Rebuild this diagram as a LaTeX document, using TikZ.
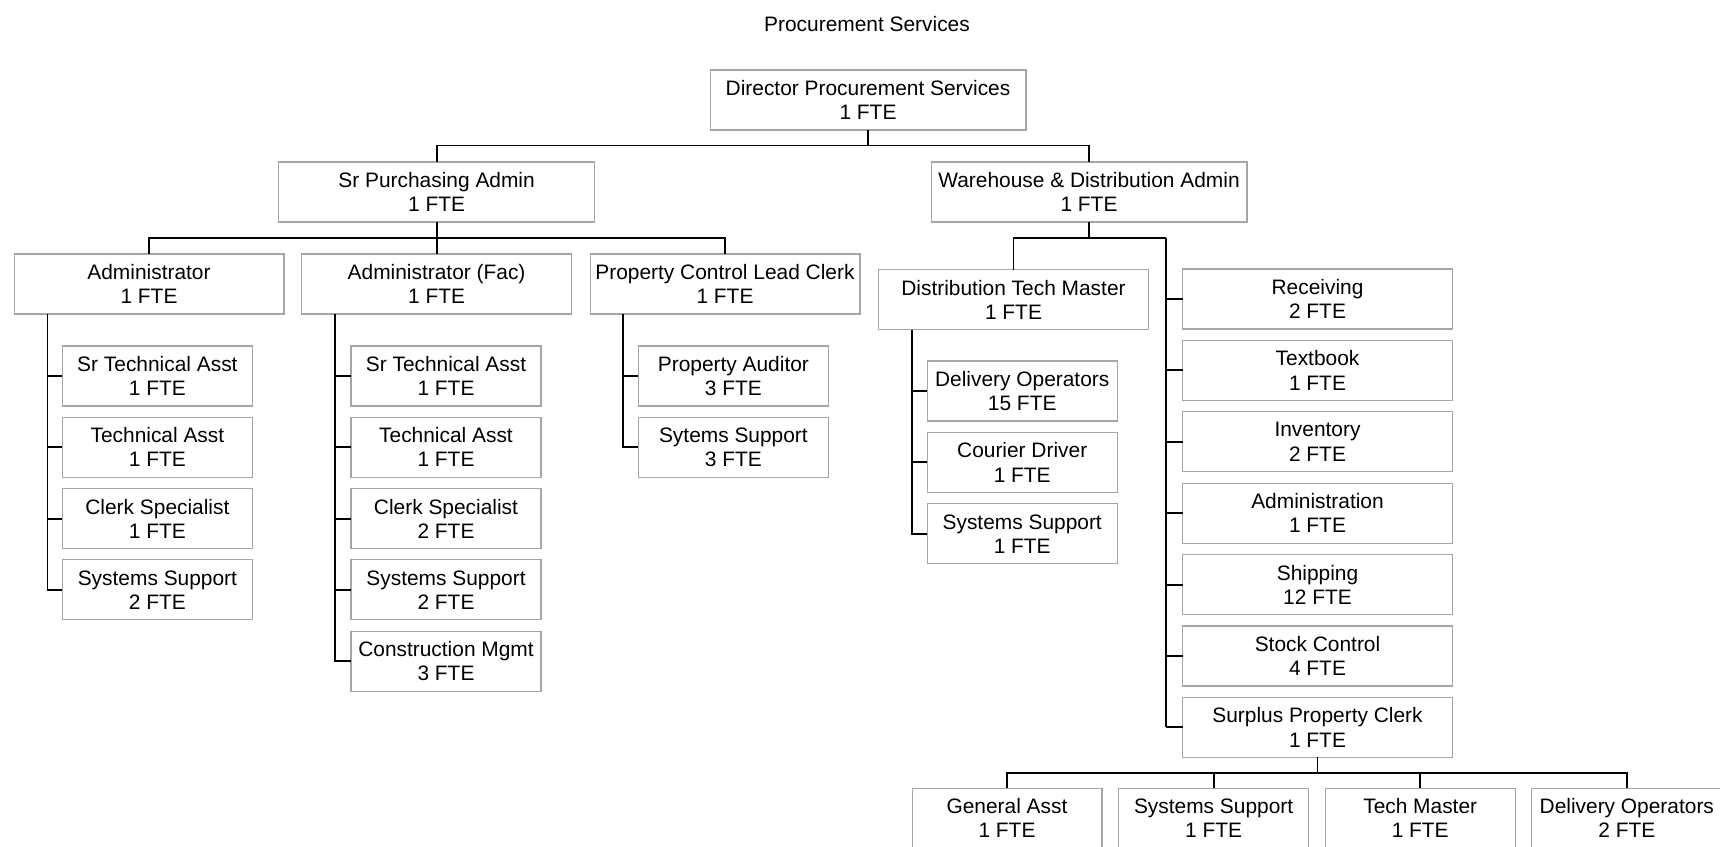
\documentclass[tikz,border=0pt]{standalone}
\usepackage{fontspec}
\setmainfont{Liberation Sans}
\usepackage{xcolor}
\usepackage{tikz}
\usetikzlibrary{positioning,calc}
\definecolor{boxgray}{RGB}{166,166,166}

\begin{document}
\begin{tikzpicture}[
    x=0.02cm, y=-0.02cm,
    font=\fontsize{11.9}{13.7}\selectfont,
    post/.style={draw=boxgray, line width=0.6pt, fill=white, align=center, minimum height=1.2cm, inner sep=0pt, outer sep=0pt},
    headbox/.style={post, minimum width=6.32cm},
    unitbox/.style={post, minimum width=5.4cm},
    staffbox/.style={post, minimum width=3.8cm},
    link/.style={black, line width=1.05pt}
]
\useasboundingbox (0,0) rectangle (1720,846);
\clip (0,0) rectangle (1720,846);

\node (title) at (867,24) {Procurement Services};

% top two levels
\node[headbox] (dir) at (868,100) {Director Procurement Services\\1 FTE};
\node[headbox] (spa) at (436.6,192) {Sr Purchasing Admin\\1 FTE};
\node[headbox] (wda) at (1089,192) {Warehouse \& Distribution Admin\\1 FTE};
\draw[link] (dir.south) -- ++(0,15.5) -| (spa.north);
\draw[link] (dir.south) -- ++(0,15.5) -| (wda.north);

% purchasing side
\node[unitbox] (adm) at (149,284) {Administrator\\1 FTE};
\node[unitbox] (admf) at (436.6,284) {Administrator (Fac)\\1 FTE};
\node[unitbox] (pclc) at (725,284) {Property Control Lead Clerk\\1 FTE};
\foreach \u in {adm,admf,pclc}
    \draw[link] (spa.south) -- ++(0,16) -| (\u.north);

\foreach \t/\f [count=\i] in {Sr Technical Asst/1,Technical Asst/1,Clerk Specialist/1,Systems Support/2} {
    \node[staffbox] (adm\i) at (157.4,{376+71.3*(\i-1)}) {\t\\\f\ FTE};
    \draw[link] ($(adm.south west)+(33.4,0)$) |- (adm\i.west);
}
\foreach \t/\f [count=\i] in {Sr Technical Asst/1,Technical Asst/1,Clerk Specialist/2,Systems Support/2,Construction Mgmt/3} {
    \node[staffbox] (admf\i) at (446,{376+71.3*(\i-1)}) {\t\\\f\ FTE};
    \draw[link] ($(admf.south west)+(33.2,0)$) |- (admf\i.west);
}
\foreach \t/\f [count=\i] in {Property Auditor/3,Sytems Support/3} {
    \node[staffbox] (pclc\i) at (733.4,{376+71.3*(\i-1)}) {\t\\\f\ FTE};
    \draw[link] ($(pclc.south west)+(33,0)$) |- (pclc\i.west);
}

% warehouse side
\node[unitbox] (dtm) at (1013.5,299.5) {Distribution Tech Master\\1 FTE};
\coordinate (wspine) at (1165.7,238);
\draw[link] (wda.south) -- (wda.south |- wspine);
\draw[link] (dtm.north) |- (wspine);
\foreach \t/\f [count=\i] in {Delivery Operators/15,Courier Driver/1,Systems Support/1} {
    \node[staffbox] (dtm\i) at (1022.2,{391+71.4*(\i-1)}) {\t\\\f\ FTE};
    \draw[link] ($(dtm.south west)+(33.2,0)$) |- (dtm\i.west);
}
\foreach \t/\f [count=\i] in {Receiving/2,Textbook/1,Inventory/2,Administration/1,Shipping/12,Stock Control/4,Surplus Property Clerk/1} {
    \node[unitbox] (wh\i) at (1317.5,{299+71.4*(\i-1)}) {\t\\\f\ FTE};
    \draw[link] (wspine |- wh\i.west) -- (wh\i.west);
}
\draw[link] (wspine) -- (wspine |- wh7.west);

% surplus property staff
\foreach \t/\f [count=\i] in {General Asst/1,Systems Support/1,Tech Master/1,Delivery Operators/2} {
    \node[staffbox] (sp\i) at ({1007+206.6*(\i-1)},818.3) {\t\\\f\ FTE};
    \draw[link] (wh7.south) -- ++(0,15.5) -| (sp\i.north);
}
\end{tikzpicture}
\end{document}
